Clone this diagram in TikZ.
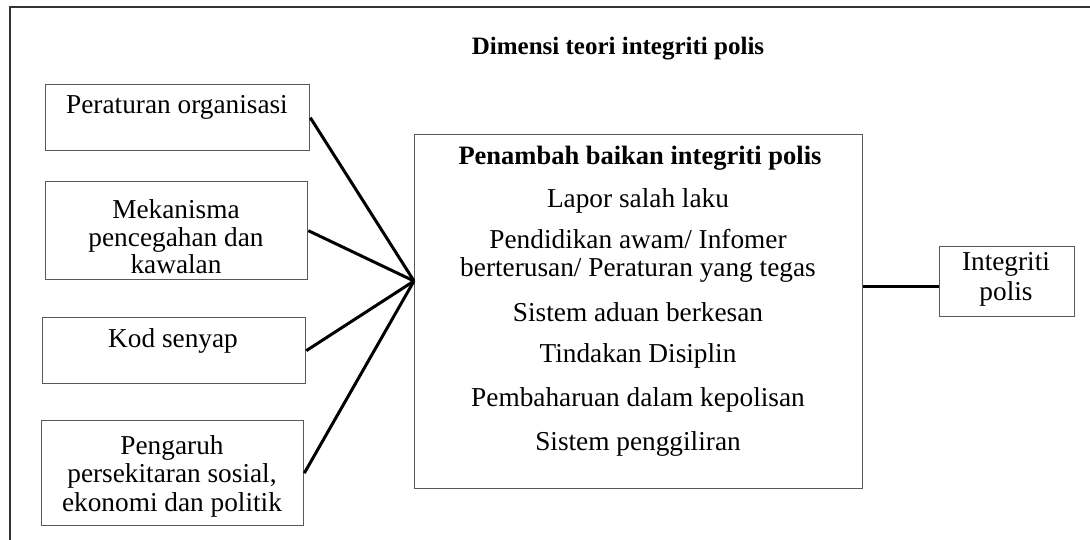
\documentclass[tikz,border=0pt]{standalone}
\usepackage{fontspec}
\setmainfont{Liberation Serif}
\begin{document}
\begin{tikzpicture}[x=1pt,y=-1pt,
  box/.style={draw=black!65,line width=1.3pt,inner sep=0pt,anchor=north west},
  lbl/.style={font=\fontsize{27.3}{28.5}\selectfont,inner sep=0pt,align=center,text=black},
  blbl/.style={font=\fontsize{26.5}{28}\selectfont\bfseries,inner sep=0pt,text=black},
  conn/.style={line width=3pt,black}]
\useasboundingbox (0,0) rectangle (1090,540);
% outer frame (open at right and bottom)
\coordinate (fbl) at (10,540);
\coordinate (ftl) at (10,7);
\coordinate (ftr) at (1090,7);
\draw[line width=2pt,black!80] (fbl) -- (ftl) -- (ftr);

\node[blbl,font=\fontsize{25}{27}\selectfont\bfseries] (title) at (618,49) {Dimensi teori integriti polis};

% left boxes
\node[box,minimum width=264pt,minimum height=66pt] (b1) at (45,84) {};
\node[lbl] (t1) at (177,107) {Peraturan organisasi};
\node[box,minimum width=262pt,minimum height=98pt] (b2) at (45,181) {};
\node[lbl,font=\fontsize{27.3}{27.5}\selectfont] (t2) at (176,237) {Mekanisma\\pencegahan dan\\kawalan};
\node[box,minimum width=263pt,minimum height=66pt] (b3) at (42,317) {};
\node[lbl] (t3) at (173,341) {Kod senyap};
\node[box,minimum width=262pt,minimum height=105pt] (b4) at (41,420) {};
\node[lbl] (t4) at (172,476) {Pengaruh\\persekitaran sosial,\\ekonomi dan politik};

% center box
\node[box,minimum width=448pt,minimum height=354pt] (c) at (414,134) {};
\node[blbl] (c0) at (640,158) {Penambah baikan integriti polis};
\node[lbl] (c1) at (638,201) {Lapor salah laku};
\node[lbl] (c2) at (638,256) {Pendidikan awam/ Infomer\\berterusan/ Peraturan yang tegas};
\node[lbl] (c3) at (638,312) {Sistem aduan berkesan};
\node[lbl] (c4) at (638,356) {Tindakan Disiplin};
\node[lbl] (c5) at (638,400) {Pembaharuan dalam kepolisan};
\node[lbl] (c6) at (638,444) {Sistem penggiliran};

% right box
\node[box,minimum width=135pt,minimum height=70pt] (r) at (939,246) {};
\node[lbl,font=\fontsize{27.3}{30}\selectfont] (rt) at (1006,279) {Integriti\\polis};

% connectors
\coordinate (conv) at (414,281);
\draw[conn] (b1.east) -- (conv);
\draw[conn] (b2.east) -- (conv);
\draw[conn] (b3.east) -- (conv);
\draw[conn] (b4.east) -- (conv);
\coordinate (ry) at (0,286);
\draw[conn] (c.east |- ry) -- (r.west |- ry);
\end{tikzpicture}
\end{document}
